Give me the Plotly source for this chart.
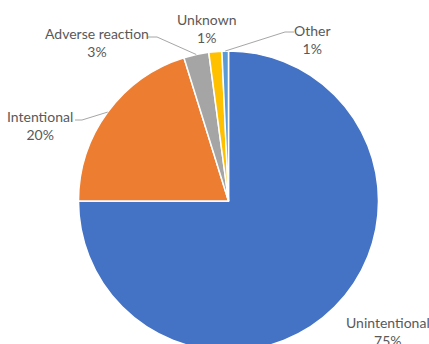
import math
import plotly.graph_objects as go

# ---- data ----
labels = ["Unintentional", "Intentional", "Adverse reaction", "Unknown", "Other"]
values = [75.0, 20.2, 2.7, 1.4, 0.7]
colors = ["#4472C4", "#ED7D31", "#A5A5A5", "#FFC000", "#5B9BD5"]

# ---- layout constants (pixels) ----
W, H = 429, 351
CX, CY, R = 228.5, 201.0, 150.0
# label block centres (px from top-left)
label_pos = {
    "Unintentional": (388, 331),
    "Intentional": (40, 126),
    "Adverse reaction": (97, 42),
    "Unknown": (206, 29),
    "Other": (312, 39),
}
# leader elbow: (elbow point, end point) near text, px
leaders = {
    "Intentional": ((82, 120), (75, 120)),
    "Adverse reaction": ((157, 37), (148, 37)),
    "Other": ((285, 32), (294, 32)),
}

def px(x):
    return x / W

def py(y):
    return (H - y) / H

fig = go.Figure(go.Pie(
    labels=labels,
    values=values,
    sort=False,
    direction="clockwise",
    rotation=0,
    marker=dict(colors=colors, line=dict(color="white", width=1.5)),
    textinfo="none",
    hoverinfo="label+percent",
    domain=dict(x=[px(CX - R), px(CX + R)], y=[py(CY + R), py(CY - R)]),
    showlegend=False,
))

total = sum(values)
annotations = []
shapes = []
cum = 0.0
for lab, v in zip(labels, values):
    mid = (cum + v / 2) / total * 2 * math.pi
    cum += v
    rx = CX + R * math.sin(mid)
    ry = CY - R * math.cos(mid)
    pct = round(v / total * 100)
    tx, ty = label_pos[lab]
    annotations.append(dict(
        x=px(tx), y=py(ty), xref="paper", yref="paper",
        text=f"{lab}<br>{pct}%", showarrow=False, align="center",
        xanchor="center", yanchor="middle",
        font=dict(family="Lato, Liberation Sans, sans-serif", size=14, color="#595959"),
    ))
    if lab in leaders:
        (ex, ey), (fx, fy) = leaders[lab]
        path = f"M {px(rx)} {py(ry)} L {px(ex)} {py(ey)} L {px(fx)} {py(fy)}"
        shapes.append(dict(type="path", xref="paper", yref="paper", path=path,
                           line=dict(color="#A6A6A6", width=1)))

fig.update_layout(
    width=W, height=H,
    margin=dict(l=0, r=0, t=0, b=0),
    paper_bgcolor="white",
    plot_bgcolor="white",
    annotations=annotations,
    shapes=shapes,
)

fig.write_html("out.html")
